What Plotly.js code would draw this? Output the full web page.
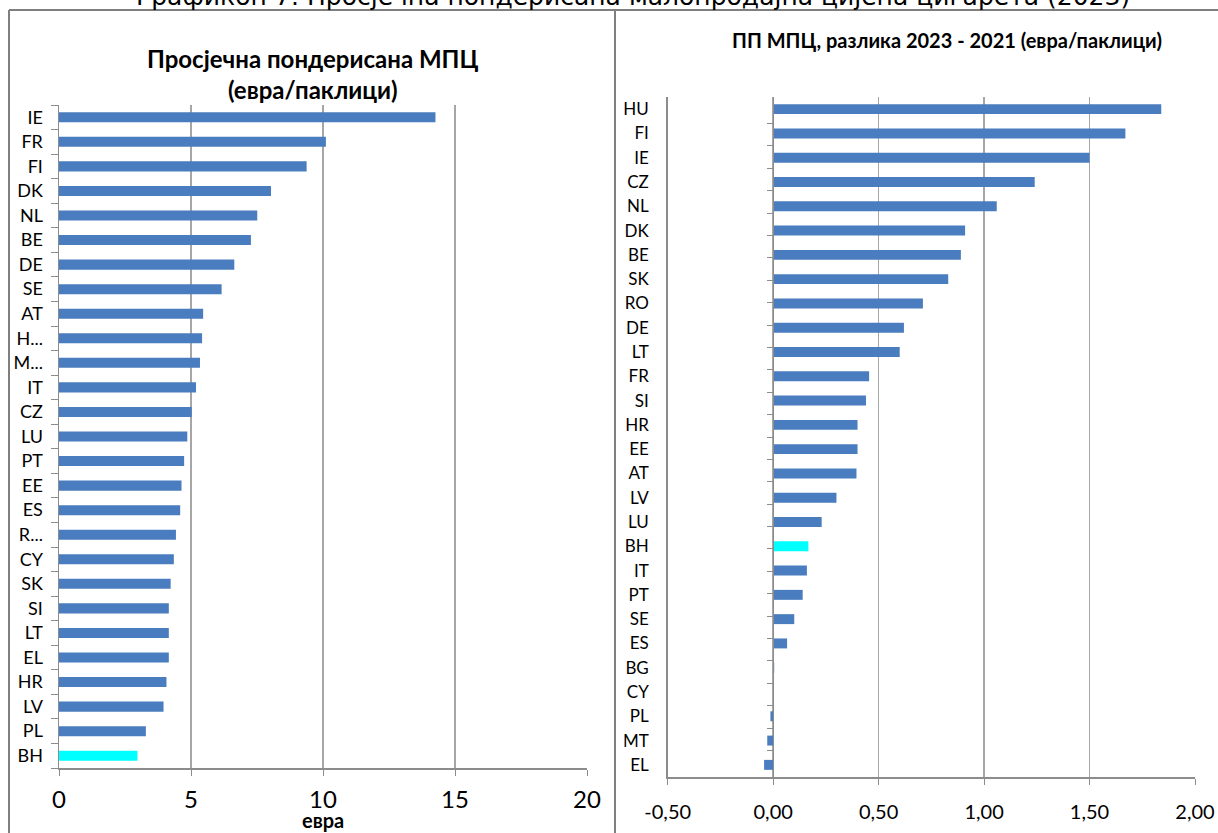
<!DOCTYPE html>
<html>
<head>
<meta charset="utf-8">
<script src="https://cdn.plot.ly/plotly-3.0.1.min.js"></script>
<style>html,body{margin:0;padding:0;background:#fff;}#chart{width:1218px;height:833px;}</style>
</head>
<body>
<div id="chart"></div>
<script>
// ---- Data ----
var pageTitle = 'Графикон 7: Просјечна пондерисана малопродајна цијена цигарета (2023)';
var leftTitle = 'Просјечна пондерисана МПЦ<br>(евра/паклици)';
var leftAxisTitle = 'евра';
var rightTitle = 'ПП МПЦ, разлика 2023 - 2021 (евра/паклици)';

var priceCats = ['IE','FR','FI','DK','NL','BE','DE','SE','AT','H...','M...','IT','CZ','LU','PT','EE','ES','R...','CY','SK','SI','LT','EL','HR','LV','PL','BH'];
var priceVals = [14.26,10.11,9.38,8.03,7.51,7.27,6.64,6.16,5.46,5.42,5.34,5.19,5.03,4.86,4.74,4.64,4.59,4.43,4.35,4.23,4.16,4.16,4.16,4.07,3.96,3.29,2.97];
var priceTicks = [0,5,10,15,20];

var diffCats = ['HU','FI','IE','CZ','NL','DK','BE','SK','RO','DE','LT','FR','SI','HR','EE','AT','LV','LU','BH','IT','PT','SE','ES','BG','CY','PL','MT','EL'];
var diffVals = [1.84,1.67,1.50,1.24,1.06,0.91,0.89,0.83,0.71,0.62,0.60,0.455,0.44,0.40,0.40,0.395,0.30,0.23,0.167,0.16,0.14,0.10,0.066,0.005,0.0,-0.013,-0.028,-0.043];
var diffTicks = [-0.5,0,0.5,1,1.5,2];
var diffTickText = diffTicks.map(function(v){return v.toFixed(2).replace('.',',');});

var highlight = 'BH';

// ---- Styles ----
var BLUE = '#4a7dbf', CYAN = '#00ffff', GRID = '#a6a6a6', LINE = '#8c8c8c';
var FONT = 'Lato, Roboto, "Liberation Sans", sans-serif';
var W = 1218, H = 833;
function px(x){return x/W;}
function py(y){return 1 - y/H;}

var leftColors = priceCats.map(function(c){return c===highlight?CYAN:BLUE;});
var rightColors = diffCats.map(function(c){return c===highlight?CYAN:BLUE;});

var traces = [
  {type:'bar', orientation:'h', x:priceVals, y:priceCats, xaxis:'x', yaxis:'y',
   marker:{color:leftColors}, hoverinfo:'x+y'},
  {type:'bar', orientation:'h', x:diffVals, y:diffCats, xaxis:'x2', yaxis:'y3',
   marker:{color:rightColors}, hoverinfo:'x+y'},
  {type:'scatter', mode:'markers', x:diffVals, y:diffCats, xaxis:'x2', yaxis:'y4',
   marker:{opacity:0}, hoverinfo:'skip', showlegend:false}
];

var zeroPos = px(667.7 + (0 - (-0.5)) * (1195 - 667.7) / 2.5);

var layout = {
  width: W, height: H,
  margin:{l:0,r:0,t:0,b:0},
  paper_bgcolor:'#fff', plot_bgcolor:'#fff',
  showlegend:false,
  bargap:0.59,
  font:{family:FONT, color:'#000'},
  xaxis:{domain:[px(59),px(587)], range:[0,20], tickmode:'array', tickvals:priceTicks, anchor:'y',
    showgrid:true, gridcolor:GRID, gridwidth:1.5, zeroline:false,
    showline:true, linecolor:LINE, linewidth:1.5,
    ticks:'outside', ticklen:6, tickcolor:LINE,
    tickfont:{size:24, family:FONT}, ticklabelstandoff:4},
  yaxis:{domain:[py(768),py(105)], type:'category', autorange:'reversed', anchor:'x',
    tickmode:'array', tickvals:priceCats,
    showgrid:false, zeroline:false, showline:true, linecolor:LINE, linewidth:1.5,
    ticks:'outside', ticklen:7, tickcolor:LINE, tickson:'boundaries',
    tickfont:{size:18, family:FONT}, ticklabelstandoff:11},
  xaxis2:{domain:[px(667.7),px(1195)], range:[-0.5,2.0], tickmode:'array', tickvals:diffTicks, ticktext:diffTickText, anchor:'y3',
    showgrid:true, gridcolor:GRID, gridwidth:1.5, zeroline:false,
    showline:true, linecolor:LINE, linewidth:1.5,
    ticks:'outside', ticklen:6, tickcolor:LINE,
    tickfont:{size:20, family:FONT}, ticklabelstandoff:10},
  yaxis3:{domain:[py(777),py(97)], type:'category', autorange:'reversed', anchor:'x2',
    tickmode:'array', tickvals:diffCats,
    showgrid:false, zeroline:false, showline:true, linecolor:LINE, linewidth:1.5,
    ticks:'', tickfont:{size:17, family:FONT}, ticklabelstandoff:14},
  yaxis4:{domain:[py(777),py(97)], type:'category', autorange:'reversed', overlaying:'y3',
    tickmode:'array', tickvals:diffCats,
    anchor:'free', position:zeroPos, side:'left',
    showgrid:false, zeroline:false, showline:true, linecolor:LINE, linewidth:1,
    ticks:'outside', ticklen:6, tickcolor:LINE, tickson:'boundaries', showticklabels:false},
  annotations:[
    {text:pageTitle, xref:'paper', yref:'paper', x:px(633), y:py(13), xanchor:'center', yanchor:'bottom',
     showarrow:false, font:{family:'DejaVu Sans', size:25, color:'#000'}},
    {text:'<b>'+leftTitle+'</b>', xref:'paper', yref:'paper', x:px(313), y:py(74), xanchor:'center', yanchor:'middle',
     showarrow:false, font:{family:FONT, size:24, color:'#000'}},
    {text:'<b>'+leftAxisTitle+'</b>', xref:'paper', yref:'paper', x:px(323), y:py(820), xanchor:'center', yanchor:'middle',
     showarrow:false, font:{family:FONT, size:20, color:'#000'}},
    {text:'<b>'+rightTitle+'</b>', xref:'paper', yref:'paper', x:px(947), y:py(40), xanchor:'center', yanchor:'middle',
     showarrow:false, font:{family:FONT, size:20, color:'#000'}}
  ],
  shapes:[
    {type:'line', xref:'paper', yref:'paper', x0:px(9), x1:1, y0:py(10), y1:py(10), line:{color:'#7f7f7f', width:2}},
    {type:'line', xref:'paper', yref:'paper', x0:px(9), x1:px(9), y0:py(10), y1:0, line:{color:'#7f7f7f', width:2}},
    {type:'line', xref:'paper', yref:'paper', x0:px(615), x1:px(615), y0:py(10), y1:0, line:{color:'#7f7f7f', width:2}}
  ]
};

Plotly.newPlot('chart', traces, layout, {displayModeBar:false, staticPlot:true});
</script>
</body>
</html>
